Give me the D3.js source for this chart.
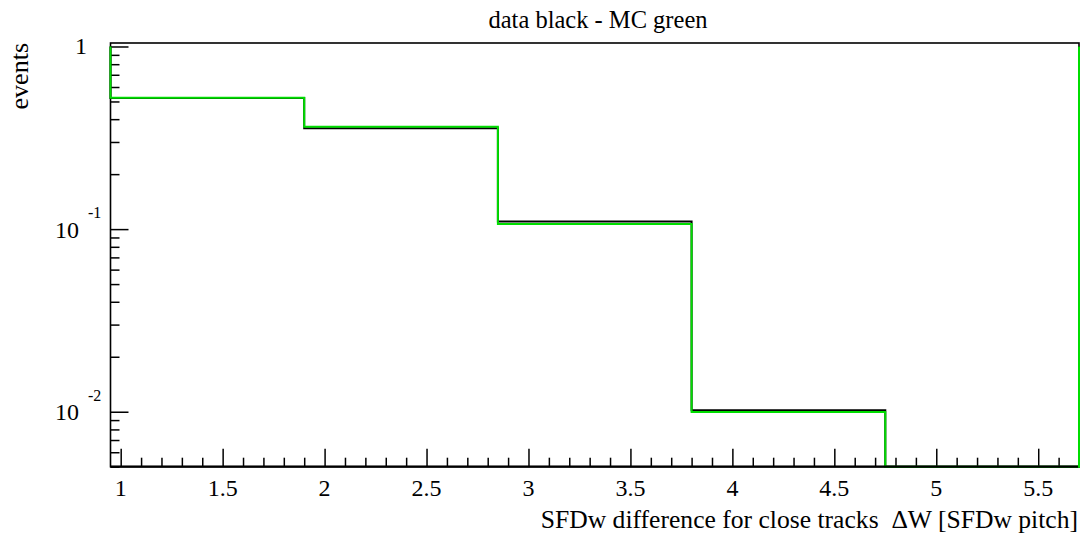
<!DOCTYPE html>
<html>
<head>
<meta charset="utf-8">
<script src="https://cdn.jsdelivr.net/npm/d3@7"></script>
<style>
  body { margin: 0; background: #fff; }
  svg { display: block; }
  text { font-family: "Liberation Serif", "DejaVu Serif", serif; fill: #000; white-space: pre; }
</style>
</head>
<body>
<svg id="chart" width="1086" height="543"></svg>
<script>
// bin edges (SFDw pitch units) and normalised counts per bin
var binEdges = [0.95, 1.9, 2.85, 3.8, 4.75, 5.7];
var dataCounts = [0.523, 0.357, 0.110, 0.0102, 0];
var mcCounts   = [0.524, 0.364, 0.1065, 0.00997, 0];
var xMajor = [1, 1.5, 2, 2.5, 3, 3.5, 4, 4.5, 5, 5.5];
var xLabels = ["1", "1.5", "2", "2.5", "3", "3.5", "4", "4.5", "5", "5.5"];
var yDecades = [1, 0.1, 0.01];
var yLabels = [{base: "1", exp: ""}, {base: "10", exp: "-1"}, {base: "10", exp: "-2"}];
var edgeLevel = 1; // level the outline is closed at, on both ends

var svg = d3.select("#chart");
var frameL = 110.5, frameR = 1079, frameT = 43, frameB = 466.7;

var x = d3.scaleLinear().domain([0.95, 5.7]).range([frameL, frameR]);
var y = d3.scaleLog().domain([0.005, 1.045]).range([frameB, frameT]);

// minor ticks: every 0.1 on x, 2..9 per decade on y
var xMinor = d3.range(10, 57).map(function(d){ return d / 10; })
  .filter(function(v){ return xMajor.indexOf(v) < 0; });
var yMinor = [];
[0.001, 0.01, 0.1].forEach(function(dec){
  for (var k = 2; k <= 9; k++) {
    var v = +(dec * k).toPrecision(3);
    if (v >= 0.005 && v <= 1.045) yMinor.push(v);
  }
});

// histogram outline as a step path
function outline(counts) {
  var ymin = y.domain()[0];
  var pts = [[binEdges[0], edgeLevel]];
  counts.forEach(function(c, i){
    var v = c > ymin ? c : ymin;
    pts.push([binEdges[i], v]);
    pts.push([binEdges[i + 1], v]);
  });
  pts.push([binEdges[binEdges.length - 1], edgeLevel]);
  return d3.line()
    .x(function(p){ return x(p[0]); })
    .y(function(p){ return y(p[1]); })(pts);
}

function ticks(axis, tx, ty) {
  svg.append("g").attr("transform", "translate(" + tx + "," + ty + ")")
    .call(axis)
    .call(function(g){ g.select(".domain").remove(); })
    .selectAll("line").attr("stroke", "#000").attr("stroke-width", 1.5);
}

// x axis ticks (pointing up into the frame)
ticks(d3.axisBottom(x).tickValues(xMinor).tickSize(-9).tickFormat(""), 0, frameB);
ticks(d3.axisBottom(x).tickValues(xMajor).tickSize(-18).tickFormat(""), 0, frameB);
// y axis ticks (pointing right into the frame)
ticks(d3.axisLeft(y).tickValues(yMinor).tickSize(-9).tickFormat(""), frameL, 0);
ticks(d3.axisLeft(y).tickValues(yDecades).tickSize(-18).tickFormat(""), frameL, 0);

// frame
svg.append("rect")
  .attr("x", frameL).attr("y", frameT)
  .attr("width", frameR - frameL).attr("height", frameB - frameT)
  .attr("fill", "none").attr("stroke", "#000").attr("stroke-width", 1.6);

// histograms: data black, MC green on top
svg.append("path").attr("d", outline(dataCounts))
  .attr("fill", "none").attr("stroke", "#000").attr("stroke-width", 2);
svg.append("path").attr("d", outline(mcCounts))
  .attr("fill", "none").attr("stroke", "#00dd00").attr("stroke-width", 2);

// bottom axis line redrawn over the empty bins
svg.append("line")
  .attr("x1", frameL).attr("x2", frameR - 1)
  .attr("y1", frameB).attr("y2", frameB)
  .attr("stroke", "#000").attr("stroke-width", 2.2);

// x tick labels
svg.selectAll(".xlab").data(xMajor).enter().append("text")
  .attr("class", "xlab")
  .attr("x", function(d){ return x(d); })
  .attr("y", 496)
  .attr("text-anchor", "middle")
  .attr("font-size", 24)
  .text(function(d, i){ return xLabels[i]; });

// y tick labels with superscript exponents
yDecades.forEach(function(v, i){
  var lab = yLabels[i];
  if (lab.exp === "") {
    svg.append("text").attr("x", 87).attr("y", y(v) + 8)
      .attr("text-anchor", "end").attr("font-size", 24).text(lab.base);
  } else {
    svg.append("text").attr("x", 79).attr("y", y(v) + 8.5)
      .attr("text-anchor", "end").attr("font-size", 24).text(lab.base);
    svg.append("text").attr("x", 88).attr("y", y(v) - 11)
      .attr("text-anchor", "start").attr("font-size", 16).text(lab.exp);
  }
});

// titles
svg.append("text").attr("x", 598).attr("y", 28)
  .attr("text-anchor", "middle").attr("font-size", 24.5)
  .text("data black - MC green");
svg.append("text").attr("x", 1078).attr("y", 528)
  .attr("text-anchor", "end").attr("font-size", 25.6)
  .text("SFDw difference for close tracks  \u0394W [SFDw pitch]");
svg.append("text")
  .attr("transform", "translate(28,43) rotate(-90)")
  .attr("text-anchor", "end").attr("font-size", 26)
  .text("events");
</script>
</body>
</html>
